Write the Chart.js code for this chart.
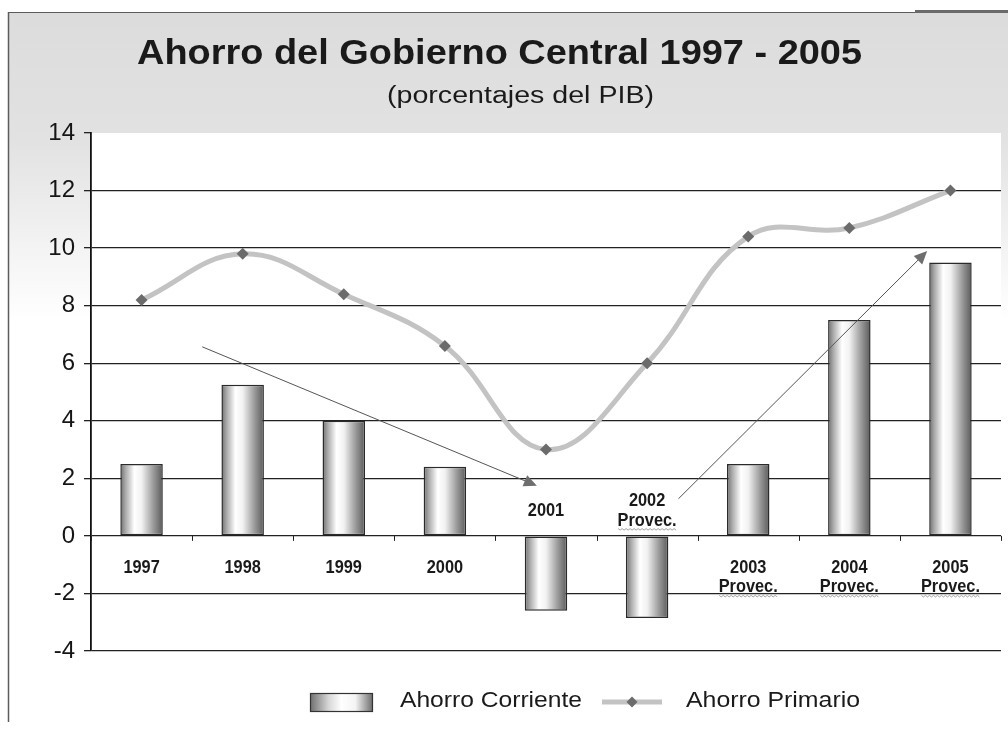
<!DOCTYPE html>
<html>
<head>
<meta charset="utf-8">
<script src="https://cdn.jsdelivr.net/npm/chart.js@4.4.1/dist/chart.umd.min.js"></script>
<style>
  html, body { margin: 0; padding: 0; background: #ffffff; }
  #wrap { width: 1008px; height: 729px; }
  canvas { display: block; }
</style>
</head>
<body>
<div id="wrap"><canvas id="c" width="1008" height="729"></canvas></div>
<script>
// ---------------- data ----------------
const titleText = 'Ahorro del Gobierno Central 1997 - 2005';
const subtitleText = '(porcentajes del PIB)';
const categories = [['1997'], ['1998'], ['1999'], ['2000'], ['2001'], ['2002', 'Provec.'], ['2003', 'Provec.'], ['2004', 'Provec.'], ['2005', 'Provec.']];
const ahorroCorriente = [2.5, 5.25, 4.0, 2.4, -2.6, -2.85, 2.5, 7.5, 9.5];
const ahorroPrimario = [8.2, 9.8, 8.4, 6.6, 3.0, 6.0, 10.4, 10.7, 12.0];
const seriesNames = ['Ahorro Corriente', 'Ahorro Primario'];
const yMin = -4, yMax = 14, yStep = 2;
// trend arrows in data coordinates: [category index, value]
const trendArrowFrom = [[0.6, 6.57], [5.31, 1.29]];
const trendArrowTo = [[3.91, 1.74], [7.77, 9.90]];

// ---------------- helpers ----------------
const FONT = "'Liberation Sans', Arial, sans-serif";
Chart.defaults.font.family = FONT;
const BAR_PCT = 0.42;

function fitText(ctx, text, x, baseline, font, targetW, align) {
  ctx.save();
  ctx.font = font;
  const w = ctx.measureText(text).width;
  const s = targetW / w;
  ctx.translate(x, baseline);
  ctx.scale(s, 1);
  ctx.textAlign = align || 'center';
  ctx.textBaseline = 'alphabetic';
  ctx.fillText(text, 0, 0);
  ctx.restore();
}
function scaledText(ctx, text, x, baseline, font, sx) {
  ctx.save();
  ctx.font = font;
  ctx.translate(x, baseline);
  ctx.scale(sx, 1);
  ctx.textAlign = 'center';
  ctx.textBaseline = 'alphabetic';
  ctx.fillText(text, 0, 0);
  ctx.restore();
}
function barGradient(ctx, x0, x1) {
  const g = ctx.createLinearGradient(x0, 0, x1, 0);
  g.addColorStop(0, '#6e6e6e');
  g.addColorStop(0.12, '#a9a9a9');
  g.addColorStop(0.33, '#ffffff');
  g.addColorStop(0.5, '#f2f2f2');
  g.addColorStop(0.78, '#9a9a9a');
  g.addColorStop(1, '#5a5a5a');
  return g;
}
function diamond(ctx, x, y, r, color) {
  ctx.save();
  ctx.fillStyle = color;
  ctx.beginPath();
  ctx.moveTo(x, y - r); ctx.lineTo(x + r, y); ctx.lineTo(x, y + r); ctx.lineTo(x - r, y);
  ctx.closePath(); ctx.fill();
  ctx.restore();
}

// ---------------- plugins ----------------
const backgroundPlugin = {
  id: 'bg',
  beforeDraw(chart) {
    const ctx = chart.ctx, W = chart.width, H = chart.height, a = chart.chartArea;
    ctx.save();
    ctx.fillStyle = '#ffffff';
    ctx.fillRect(0, 0, W, H);
    const g = ctx.createLinearGradient(0, 12, 0, H);
    g.addColorStop(0, '#dcdcdc');
    g.addColorStop(0.18, '#e2e2e2');
    g.addColorStop(0.43, '#ffffff');
    g.addColorStop(1, '#ffffff');
    ctx.fillStyle = g;
    ctx.fillRect(8, 12, W - 8, H - 12);
    ctx.fillStyle = '#ffffff';
    ctx.fillRect(a.left, a.top, a.right - a.left, a.bottom - a.top);
    // frame lines
    ctx.strokeStyle = '#5c5c5c';
    ctx.lineWidth = 1;
    ctx.beginPath(); ctx.moveTo(8, 12.5); ctx.lineTo(W, 12.5); ctx.stroke();
    ctx.lineWidth = 1.5;
    ctx.beginPath(); ctx.moveTo(8.5, 12); ctx.lineTo(8.5, 722); ctx.stroke();
    ctx.fillStyle = '#6a6a6a';
    ctx.fillRect(915, 10, W - 915, 3);
    // titles
    ctx.fillStyle = '#1a1a1a';
    fitText(ctx, titleText, 499.5, 64, 'bold 35px ' + FONT, 725);
    fitText(ctx, subtitleText, 520.5, 103, '23px ' + FONT, 267);
    ctx.restore();
  }
};

const overlayPlugin = {
  id: 'overlay',
  afterDatasetsDraw(chart) {
    const ctx = chart.ctx, xs = chart.scales.x, ys = chart.scales.y;
    const zero = ys.getPixelForValue(0);
    ctx.save();
    // x tick marks on zero line
    ctx.strokeStyle = '#222';
    ctx.lineWidth = 1;
    for (let i = 0; i <= categories.length; i++) {
      const x = Math.round(xs.getPixelForValue(i - 0.5)) + 0.5;
      ctx.beginPath(); ctx.moveTo(x, zero); ctx.lineTo(x, zero + 5); ctx.stroke();
    }
    // category labels
    ctx.fillStyle = '#1a1a1a';
    const lh = 19.5;
    categories.forEach((lines, i) => {
      const cx = xs.getPixelForValue(i);
      const v = ahorroCorriente[i];
      let firstCenter;
      if (v < 0) {
        firstCenter = zero - 27 - (lines.length - 1) * lh / 2;
      } else {
        firstCenter = zero + 30;
      }
      lines.forEach((t, k) => {
        const base = firstCenter + k * lh + 7;
        scaledText(ctx, t, cx, base, 'bold 19px ' + FONT, 0.86);
        if (t === 'Provec.') {
          // spell-check squiggle
          ctx.save();
          ctx.strokeStyle = '#8a8a8a';
          ctx.lineWidth = 0.8;
          ctx.beginPath();
          const w = 58, x0 = cx - w / 2;
          for (let s = 0; s <= w; s += 2) {
            const yy = base + 3 + ((s / 2) % 2 === 0 ? 0 : 1.5);
            if (s === 0) ctx.moveTo(x0 + s, yy); else ctx.lineTo(x0 + s, yy);
          }
          ctx.stroke();
          ctx.restore();
        }
      });
    });
    // trend arrows
    for (let k = 0; k < trendArrowFrom.length; k++) {
      const x0 = xs.getPixelForValue(trendArrowFrom[k][0]);
      const y0 = ys.getPixelForValue(trendArrowFrom[k][1]);
      const x1 = xs.getPixelForValue(trendArrowTo[k][0]);
      const y1 = ys.getPixelForValue(trendArrowTo[k][1]);
      const ang = Math.atan2(y1 - y0, x1 - x0);
      const hl = 13, hw = 6;
      ctx.strokeStyle = '#555';
      ctx.lineWidth = 1;
      ctx.beginPath();
      ctx.moveTo(x0, y0);
      ctx.lineTo(x1 - Math.cos(ang) * hl * 0.8, y1 - Math.sin(ang) * hl * 0.8);
      ctx.stroke();
      ctx.fillStyle = '#6e6e6e';
      ctx.beginPath();
      ctx.moveTo(x1, y1);
      ctx.lineTo(x1 - Math.cos(ang) * hl - Math.sin(ang) * hw, y1 - Math.sin(ang) * hl + Math.cos(ang) * hw);
      ctx.lineTo(x1 - Math.cos(ang) * hl + Math.sin(ang) * hw, y1 - Math.sin(ang) * hl - Math.cos(ang) * hw);
      ctx.closePath();
      ctx.fill();
    }
    ctx.restore();
  },
  afterDraw(chart) {
    const ctx = chart.ctx;
    ctx.save();
    // legend: bar swatch
    const bx0 = 310, bx1 = 373, by0 = 693, by1 = 712;
    const g = ctx.createLinearGradient(bx0, 0, bx1, 0);
    g.addColorStop(0, '#6e6e6e');
    g.addColorStop(0.3, '#d8d8d8');
    g.addColorStop(0.5, '#ffffff');
    g.addColorStop(0.72, '#f4f4f4');
    g.addColorStop(1, '#6a6a6a');
    ctx.fillStyle = g;
    ctx.fillRect(bx0, by0, bx1 - bx0, by1 - by0);
    ctx.strokeStyle = '#333';
    ctx.lineWidth = 1.2;
    ctx.strokeRect(bx0 + 0.5, by0 + 0.5, bx1 - bx0 - 1, by1 - by0 - 1);
    ctx.fillStyle = '#1a1a1a';
    fitText(ctx, seriesNames[0], 400, 707, '22px ' + FONT, 182, 'left');
    // legend: line swatch
    ctx.strokeStyle = '#c3c3c3';
    ctx.lineWidth = 5;
    ctx.beginPath(); ctx.moveTo(602, 702); ctx.lineTo(662, 702); ctx.stroke();
    diamond(ctx, 632, 702, 5.5, '#6b6b6b');
    ctx.fillStyle = '#1a1a1a';
    fitText(ctx, seriesNames[1], 686, 707, '22px ' + FONT, 174, 'left');
    ctx.restore();
  }
};

// ---------------- chart ----------------
const chart = new Chart(document.getElementById('c'), {
  type: 'bar',
  data: {
    labels: categories,
    datasets: [
      {
        type: 'line',
        label: seriesNames[1],
        data: ahorroPrimario,
        borderColor: '#c3c3c3',
        borderWidth: 5,
        tension: 0.4,
        pointStyle: 'rectRot',
        pointRadius: 6,
        pointBackgroundColor: '#6b6b6b',
        pointBorderColor: '#6b6b6b',
        pointBorderWidth: 0,
        fill: false,
        order: 0
      },
      {
        type: 'bar',
        label: seriesNames[0],
        data: ahorroCorriente,
        barPercentage: BAR_PCT,
        categoryPercentage: 1,
        borderColor: '#2a2a2a',
        borderWidth: 1.5,
        borderSkipped: false,
        backgroundColor: (c) => {
          const ch = c.chart, xs = ch.scales.x;
          if (!xs || !ch.chartArea || c.dataIndex === undefined) return '#cccccc';
          const cx = xs.getPixelForValue(c.dataIndex);
          const w = (xs.right - xs.left) / categories.length * BAR_PCT;
          return barGradient(ch.ctx, cx - w / 2, cx + w / 2);
        },
        order: 1
      }
    ]
  },
  options: {
    responsive: false,
    animation: false,
    devicePixelRatio: 1,
    layout: { padding: { top: 133, bottom: 78, left: 0, right: 7 } },
    plugins: {
      legend: { display: false },
      title: { display: false },
      tooltip: { enabled: false }
    },
    scales: {
      x: {
        display: false,
        offset: true
      },
      y: {
        min: yMin,
        max: yMax,
        afterFit(scale) { scale.width = 91; },
        ticks: {
          stepSize: yStep,
          padding: 9,
          color: '#151515',
          font: { size: 24, family: FONT }
        },
        grid: {
          color: (c) => (c.tick && c.tick.value === yMax) ? 'rgba(0,0,0,0)' : '#222222',
          lineWidth: 1.3,
          tickLength: 7,
          tickColor: '#222222',
          tickWidth: 1.3
        },
        border: { display: true, color: '#111111', width: 1.8 }
      }
    }
  },
  plugins: [backgroundPlugin, overlayPlugin]
});
</script>
</body>
</html>
